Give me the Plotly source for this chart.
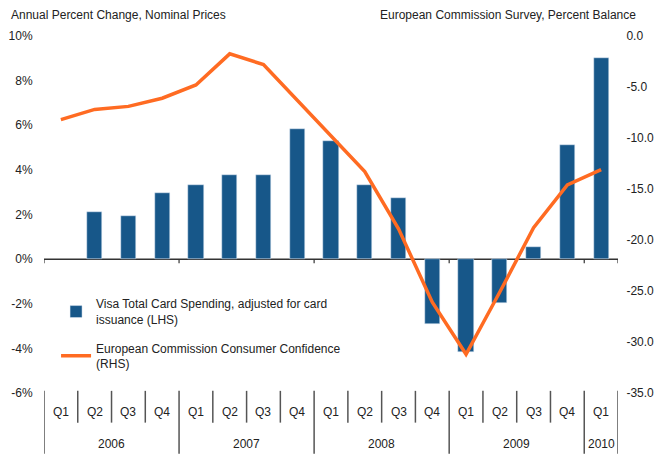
import plotly.graph_objects as go

quarters = ["Q1", "Q2", "Q3", "Q4", "Q1", "Q2", "Q3", "Q4", "Q1", "Q2", "Q3", "Q4",
            "Q1", "Q2", "Q3", "Q4", "Q1"]
years = ["2006", "2007", "2008", "2009", "2010"]
year_counts = [4, 4, 4, 4, 1]
visa_spending = [None, 2.1, 1.95, 2.95, 3.3, 3.75, 3.75, 5.85, 5.3, 3.3, 2.75,
                 -2.9, -4.15, -1.95, 0.55, 5.1, 9.0]
consumer_conf = [-8.2, -7.2, -6.9, -6.1, -4.8, -1.75, -2.8, -6.3, -9.9, -13.3,
                 -18.9, -26.1, -31.2, -25.1, -18.8, -14.6, -13.1]
left_ticks = [10, 8, 6, 4, 2, 0, -2, -4, -6]
right_ticks = [0, -5, -10, -15, -20, -25, -30, -35]

BLUE = "#175789"
ORANGE = "#FF6B22"
FONT = "Liberation Sans"
TXT = "#222222"

idx = list(range(len(quarters)))

fig = go.Figure()
fig.add_trace(go.Bar(
    x=idx, y=visa_spending, marker_color=BLUE, width=0.45,
    name="Visa Total Card Spending, adjusted for card<br>issuance (LHS)",
    yaxis="y", legendgroup="a",
))
fig.add_trace(go.Scatter(
    x=idx, y=consumer_conf, mode="lines", line=dict(color=ORANGE, width=3.5),
    name="European Commission Consumer Confidence<br>(RHS)",
    yaxis="y2", legendgroup="b",
))

shapes = []
annotations = []
# zero line
shapes.append(dict(type="line", xref="x", yref="y", x0=-0.5, x1=len(idx) - 0.5,
                   y0=0, y1=0, line=dict(color="#333333", width=1.5), layer="below"))
# category labels and dividers
line_col = "#555555"
for i, q in enumerate(quarters):
    annotations.append(dict(x=i, y=-0.054, xref="x", yref="paper", text=q,
                            showarrow=False, font=dict(size=12, color=TXT, family=FONT),
                            yanchor="middle"))
start = 0
boundaries = [0]
for yr, n in zip(years, year_counts):
    annotations.append(dict(x=start + (n - 1) / 2, y=-0.143, xref="x", yref="paper",
                            text=yr, showarrow=False,
                            font=dict(size=12, color=TXT, family=FONT), yanchor="middle"))
    start += n
    boundaries.append(start)
for i in range(len(idx) + 1):
    long_line = i in boundaries
    shapes.append(dict(type="line", xref="x", yref="paper", x0=i - 0.5, x1=i - 0.5,
                       y0=0.006, y1=-0.17 if long_line else -0.083,
                       line=dict(color=line_col, width=1.5)))
    if long_line:
        shapes.append(dict(type="line", xref="x", yref="y", x0=i - 0.5, x1=i - 0.5,
                           y0=0, y1=-0.18, line=dict(color="#333333", width=1.2)))

annotations.append(dict(x=-0.061, y=1.059, xref="paper", yref="paper",
                        text="Annual Percent Change, Nominal Prices", showarrow=False,
                        xanchor="left", yanchor="middle",
                        font=dict(size=12, color=TXT, family=FONT)))
annotations.append(dict(x=1.035, y=1.059, xref="paper", yref="paper",
                        text="European Commission Survey, Percent Balance",
                        showarrow=False, xanchor="right", yanchor="middle",
                        font=dict(size=12, color=TXT, family=FONT)))

fig.update_layout(
    width=665, height=455,
    margin=dict(l=44, r=47, t=36, b=62),
    paper_bgcolor="white", plot_bgcolor="white",
    font=dict(family=FONT, size=12, color=TXT),
    showlegend=True,
    legend=dict(x=0.021, y=0.29, xanchor="left", yanchor="top",
                bgcolor="rgba(0,0,0,0)", font=dict(size=12, family=FONT, color=TXT),
                tracegroupgap=10, itemwidth=30),
    bargap=0,
    xaxis=dict(range=[-0.5, len(idx) - 0.5], showticklabels=False, showgrid=False,
               zeroline=False, showline=False, ticks="", automargin=False),
    yaxis=dict(range=[-6, 10], tickmode="array", tickvals=left_ticks,
               ticktext=[f"{v}%" for v in left_ticks], showgrid=False,
               zeroline=False, showline=False, ticks="outside", ticklen=8,
               tickcolor="rgba(0,0,0,0)", tickfont=dict(size=12, color=TXT),
               automargin=False),
    yaxis2=dict(range=[-35, 0], tickmode="array", tickvals=right_ticks,
                ticktext=[f"{v:.1f}" for v in right_ticks], overlaying="y",
                side="right", showgrid=False, zeroline=False, showline=False,
                ticks="outside", ticklen=5, tickcolor="rgba(0,0,0,0)",
                tickfont=dict(size=12, color=TXT), automargin=False),
    shapes=shapes,
    annotations=annotations,
)

fig.write_html("out.html")
